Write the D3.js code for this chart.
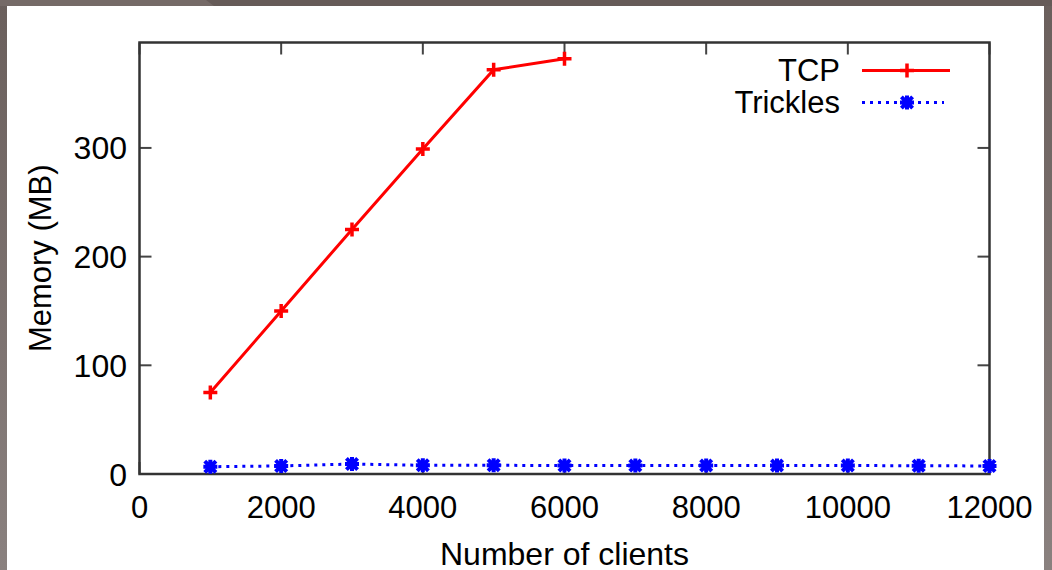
<!DOCTYPE html>
<html lang="en">
<head>
  <meta charset="utf-8" />
  <script src="https://d3js.org/d3.v7.min.js"></script>
  <style>
    body { margin: 0; background: #665b58; overflow: hidden; }
    text { font-family: "Liberation Sans", Arial, sans-serif; fill: #000; }
  </style>
</head>
<body>
  <script>
    var width = 1052,
      height = 570;

    // data
    var clients = [1000, 2000, 3000, 4000, 5000, 6000, 7000, 8000, 9000, 10000, 11000, 12000];
    var tcpMemory = [75, 150, 225, 299, 372, 382];
    var tricklesMemory = [6.7, 7.4, 9.2, 8, 8, 7.8, 7.8, 7.8, 7.8, 7.8, 7.6, 7.4];
    var xTicks = [0, 2000, 4000, 6000, 8000, 10000, 12000];
    var yTicks = [0, 100, 200, 300];

    var svg = d3.select("body")
      .append("svg")
      .attr("width", width)
      .attr("height", height);

    // slide background
    var defs = svg.append("defs");
    var grad = defs.append("linearGradient")
      .attr("id", "bg").attr("x1", 0).attr("y1", 0).attr("x2", 0).attr("y2", 1);
    grad.append("stop").attr("offset", 0).attr("stop-color", "#6a5f5c");
    grad.append("stop").attr("offset", 1).attr("stop-color", "#8a817f");
    svg.append("rect").attr("width", width).attr("height", height).attr("fill", "url(#bg)");
    svg.append("rect").attr("width", width).attr("height", 6).attr("fill", "#665b58");
    svg.append("polygon").attr("points", "0,0 206,0 214,6 0,6").attr("fill", "#756a67");
    svg.append("rect").attr("x", 7).attr("y", 6).attr("width", 1037).attr("height", height - 6).attr("fill", "#fff");

    var pLeft = 139.5, pRight = 989.5, pTop = 42.5, pBottom = 474;

    var x = d3.scaleLinear().domain([0, 12000]).range([pLeft, pRight]);
    var y = d3.scaleLinear().domain([0, 397]).range([pBottom, pTop]);

    var tickLen = 12;
    var g = svg.append("g");

    // tick marks (inward, mirrored)
    xTicks.forEach(function (t) {
      g.append("line").attr("x1", x(t)).attr("x2", x(t)).attr("y1", pBottom).attr("y2", pBottom - tickLen)
        .attr("stroke", "#444").attr("stroke-width", 2);
      g.append("line").attr("x1", x(t)).attr("x2", x(t)).attr("y1", pTop).attr("y2", pTop + tickLen)
        .attr("stroke", "#444").attr("stroke-width", 2);
      g.append("text").attr("x", x(t)).attr("y", 518).attr("text-anchor", "middle")
        .style("font-size", "31px").text(t);
    });
    yTicks.forEach(function (t) {
      g.append("line").attr("x1", pLeft).attr("x2", pLeft + tickLen).attr("y1", y(t)).attr("y2", y(t))
        .attr("stroke", "#444").attr("stroke-width", 2);
      g.append("line").attr("x1", pRight).attr("x2", pRight - tickLen).attr("y1", y(t)).attr("y2", y(t))
        .attr("stroke", "#444").attr("stroke-width", 2);
      g.append("text").attr("x", 127).attr("y", y(t)).attr("dy", "0.36em").attr("text-anchor", "end")
        .style("font-size", "32px").text(t);
    });

    g.append("rect").attr("x", pLeft).attr("y", pTop).attr("width", pRight - pLeft).attr("height", pBottom - pTop)
      .attr("fill", "none").attr("stroke", "#333").attr("stroke-width", 2.5);

    // axis titles
    svg.append("text").attr("x", (pLeft + pRight) / 2).attr("y", 565).attr("text-anchor", "middle")
      .style("font-size", "32px").text("Number of clients");
    svg.append("text").attr("transform", "translate(51," + ((pTop + pBottom) / 2) + ") rotate(-90)")
      .attr("text-anchor", "middle").style("font-size", "31px").text("Memory (MB)");

    var line = d3.line().x(function (d) { return x(d[0]); }).y(function (d) { return y(d[1]); });
    var tcp = tcpMemory.map(function (v, i) { return [clients[i], v]; });
    var trk = tricklesMemory.map(function (v, i) { return [clients[i], v]; });

    function plus(sel, cx, cy, s, color) {
      sel.append("path").attr("d", "M" + (cx - s) + "," + cy + "H" + (cx + s) + "M" + cx + "," + (cy - s) + "V" + (cy + s))
        .attr("stroke", color).attr("stroke-width", 3.5).attr("fill", "none");
    }
    function star(sel, cx, cy, s, color) {
      var k = s * 0.8;
      sel.append("path").attr("d",
        "M" + (cx - s) + "," + cy + "H" + (cx + s) + "M" + cx + "," + (cy - s) + "V" + (cy + s) +
        "M" + (cx - k) + "," + (cy - k) + "L" + (cx + k) + "," + (cy + k) +
        "M" + (cx - k) + "," + (cy + k) + "L" + (cx + k) + "," + (cy - k))
        .attr("stroke", color).attr("stroke-width", 4).attr("fill", "none");
    }

    svg.append("path").datum(tcp).attr("d", line).attr("fill", "none")
      .attr("stroke", "#ff0000").attr("stroke-width", 3);
    tcp.forEach(function (d) { plus(svg, x(d[0]), y(d[1]), 7, "#ff0000"); });

    svg.append("path").datum(trk).attr("d", line).attr("fill", "none")
      .attr("stroke", "#0000ff").attr("stroke-width", 3).attr("stroke-dasharray", "3,5");
    trk.forEach(function (d) { star(svg, x(d[0]), y(d[1]), 7, "#0000ff"); });

    // legend
    var lg = svg.append("g");
    lg.append("text").attr("x", 840).attr("y", 81).attr("text-anchor", "end").style("font-size", "31px").text("TCP");
    lg.append("line").attr("x1", 862).attr("x2", 950).attr("y1", 70.5).attr("y2", 70.5)
      .attr("stroke", "#ff0000").attr("stroke-width", 3);
    plus(lg, 907, 70.5, 7, "#ff0000");
    lg.append("text").attr("x", 840).attr("y", 113).attr("text-anchor", "end").style("font-size", "31px").text("Trickles");
    lg.append("line").attr("x1", 862).attr("x2", 944).attr("y1", 102.5).attr("y2", 102.5)
      .attr("stroke", "#0000ff").attr("stroke-width", 3).attr("stroke-dasharray", "3,5");
    star(lg, 907, 102.5, 7, "#0000ff");
  </script>
</body>
</html>
